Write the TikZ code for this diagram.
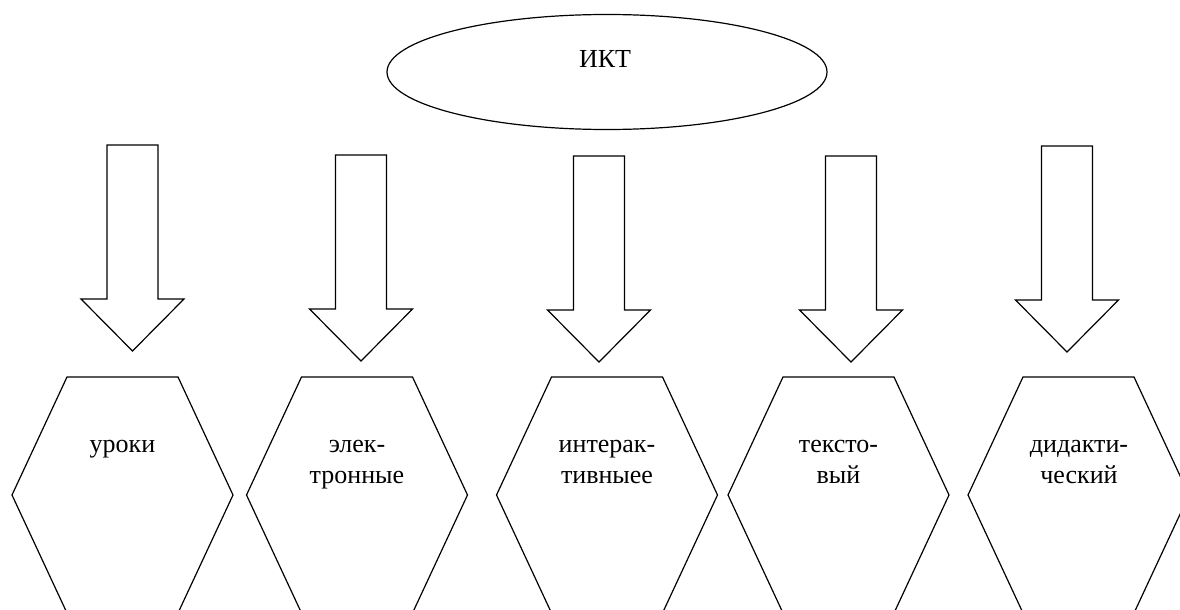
\documentclass[tikz,border=0pt]{standalone}
\usepackage{fontspec}
\setmainfont{Liberation Serif}
\usetikzlibrary{shapes.geometric}
\tikzset{
  outline/.style={draw=black, line width=1.2pt, line join=miter},
  lbl/.style={font=\rmfamily\fontsize{26}{31}\selectfont, inner sep=0pt, anchor=base, align=center},
  blockarrow/.pic={
    \draw[outline] (0,0) -- (-51.5,-52) -- (-25.5,-52) -- (-25.5,-206)
      -- (25.5,-206) -- (25.5,-52) -- (51.5,-52) -- cycle;
  },
  hexa/.pic={
    \draw[outline] (-55.5,-118) -- (55.5,-118) -- (110.5,0) -- (55.5,118)
      -- (-55.5,118) -- (-110.5,0) -- cycle;
  }
}
\begin{document}
\begin{tikzpicture}[x=1pt, y=-1pt]
\clip (0,0) rectangle (1180,610);
\fill[white] (0,0) rectangle (1180,610);

% top ellipse
\node[ellipse, outline, minimum width=440pt, minimum height=115pt, inner sep=0pt] (ikt) at (607,72) {};
\node[lbl] (iktlabel) at (605,67) {ИКТ};

% arrows (origin at tip)
\coordinate (a1) at (132.5,351);
\coordinate (a2) at (361,361);
\coordinate (a3) at (599,362);
\coordinate (a4) at (851,362);
\coordinate (a5) at (1067,352);
\foreach \a in {a1,a2,a3,a4,a5} { \pic at (\a) {blockarrow}; }

% hexagons (origin at centre)
\coordinate (h1) at (122.5,495);
\coordinate (h2) at (357,495);
\coordinate (h3) at (607,495);
\coordinate (h4) at (838.5,495);
\coordinate (h5) at (1078.5,495);
\foreach \h in {h1,h2,h3,h4,h5} { \pic at (\h) {hexa}; }

% labels
\node[lbl] (t1) at (122.5,452) {уроки};
\node[lbl, anchor=north] (t2) at (357,440) {элек-\\тронные};
\node[lbl, anchor=north] (t3) at (607,440) {интерак-\\тивныее};
\node[lbl, anchor=north] (t4) at (838.5,440) {тексто-\\вый};
\node[lbl, anchor=north] (t5) at (1079,440) {дидакти-\\ческий};
\end{tikzpicture}
\end{document}
